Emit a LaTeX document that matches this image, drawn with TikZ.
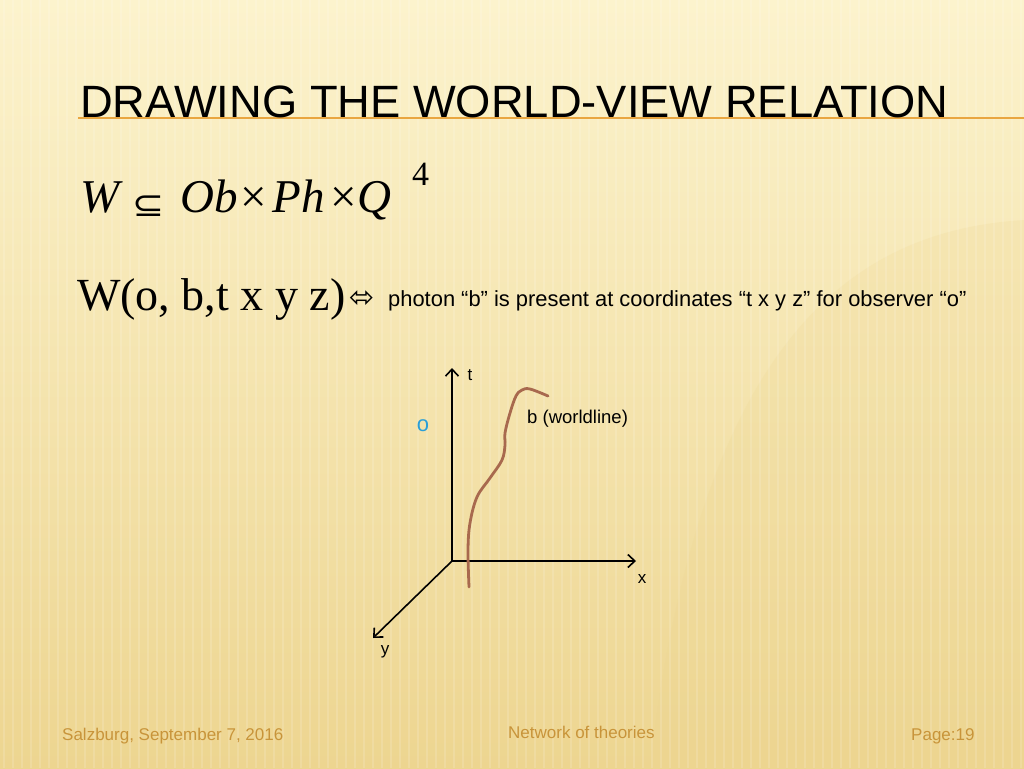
\documentclass[tikz,border=0pt]{standalone}
\usepackage{graphicx}
\usepackage{fontspec}
\setmainfont{Liberation Sans}
\newfontfamily\serifont{Liberation Serif}
\newfontfamily\symfont{DejaVu Sans}
\usetikzlibrary{arrows.meta}

\definecolor{bgtop}{HTML}{FCF3CD}
\definecolor{bgbot}{HTML}{EDD590}
\definecolor{ruleorange}{HTML}{E9A640}
\definecolor{footgold}{HTML}{C8943A}
\definecolor{obsblue}{HTML}{2A9FD8}
\definecolor{wlbrown}{HTML}{A8694E}

\begin{document}
\begin{tikzpicture}[x=1pt,y=-1pt,
  txt/.style={inner sep=0pt,anchor=base west},
  lbl/.style={inner sep=0pt,font=\fontsize{17}{20}\selectfont},
  axis/.style={line width=1.6pt,-{Straight Barb[length=7pt,width=13pt]}},
  foot/.style={txt,text=footgold,font=\fontsize{17}{20}\selectfont}]

 % background
 \useasboundingbox (0,0) rectangle (1024,768);
 \shade[top color=bgtop,bottom color=bgbot] (0,0) rectangle (1024,768);
 \fill[bgbot,opacity=.2] (1024,220) .. controls (860,230) and (700,330) .. (650,768)
   -- (1024,768) -- cycle;
 \foreach \sx in {4,13,...,1024}
   \draw[white,opacity=.14,line width=2.5pt] (\sx,0) -- (\sx,768);
 \draw[ruleorange,line width=1.5pt] (78,118) -- (1024,118);

 % title and formulas
 \node[txt,font=\fontsize{45.3}{50}\selectfont] (title) at (80,117)
   {DRAWING THE WORLD-VIEW RELATION};
 \node[txt,font=\fontsize{47}{50}\serifont\itshape] (wdef) at (80,212)
   {W\hspace{13pt}\raisebox{-4pt}{\scalebox{1.2}[1.05]{\symfont\upshape\fontsize{32}{34}\selectfont ⊆}}\hspace{16pt}Ob\hspace{3pt}{\upshape ×}\hspace{5pt}Ph\hspace{6pt}{\upshape ×}Q\hspace{21pt}\raisebox{27pt}{\upshape\fontsize{34}{34}\selectfont 4}};
 \node[txt,font=\fontsize{46}{50}\serifont] (wrel) at (77,310) {W(o, b,t x y z)};
 \node[txt,font=\fontsize{30}{32}\symfont] (iff) at (349,307) {⬄};
 \node[txt,font=\fontsize{21.9}{24}\selectfont] (photon) at (388,306)
   {photon “b” is present at coordinates “t x y z” for observer “o”};

 % axes
 \coordinate (orig) at (452,561);
 \coordinate (ttip) at (452,368);
 \coordinate (xtip) at (636,561);
 \coordinate (ytip) at (373,638);
 \draw[axis] (orig) -- (ttip);
 \draw[axis] (orig) -- (xtip);
 \draw[axis] (orig) -- (ytip);
 \node[lbl] (tlab) at (470,375) {t};
 \node[lbl] (xlab) at (642,579) {x};
 \node[lbl] (ylab) at (385,652) {y};
 \node[lbl,text=obsblue,font=\fontsize{22}{24}\selectfont] (obs) at (423,426) {o};

 % worldline
 \draw[wlbrown,line width=2.8pt,line cap=round] plot[smooth,tension=.6] coordinates
   {(469,587) (468,550) (470,523) (477,497) (490,478) (502,460) (505,445)
    (505,433) (510,413) (516,396) (522,390) (530,389) (548,396)};
 \node[lbl,anchor=west,font=\fontsize{18.5}{20}\selectfont] (wl) at (527,419) {b (worldline)};

 % footer
 \node[foot] (place) at (62,740) {Salzburg, September 7, 2016};
 \node[foot] (talk) at (508,738) {Network of theories};
 \node[foot] (page) at (911,740) {Page:19};
\end{tikzpicture}
\end{document}
